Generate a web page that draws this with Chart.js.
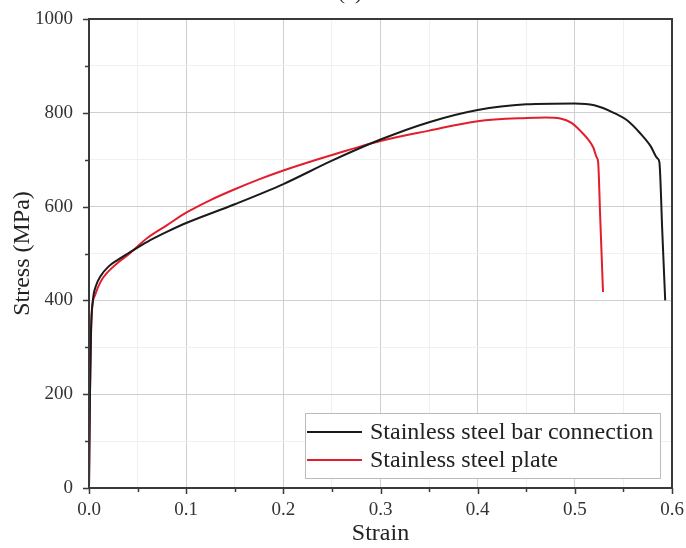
<!DOCTYPE html>
<html>
<head>
<meta charset="utf-8">
<script src="https://cdn.jsdelivr.net/npm/chart.js@4"></script>
<style>
	html, body { margin: 0; padding: 0; background: #fff; }
	#wrap { width: 686px; height: 548px; }
</style>
</head>
<body>
<div id="wrap"><canvas id="stressChart" width="686" height="548"></canvas></div>
<script>
// data
var barLabel = "Stainless steel bar connection";
var barStrain = [0, 0.001, 0.002, 0.004, 0.007, 0.012, 0.02, 0.03, 0.04, 0.06, 0.08, 0.1, 0.15, 0.2, 0.25, 0.3, 0.35, 0.4, 0.45, 0.5, 0.52, 0.54, 0.555, 0.567, 0.578, 0.585, 0.587, 0.59, 0.593];
var barStress = [0, 200, 330, 400, 430, 452, 472, 487, 500, 525, 546, 565, 605, 648, 698, 743, 780, 806, 818, 820, 816, 800, 782, 757, 729, 703, 695, 547, 400];

var plateLabel = "Stainless steel plate";
var plateStrain = [0, 0.001, 0.002, 0.003, 0.006, 0.012, 0.02, 0.03, 0.04, 0.06, 0.08, 0.1, 0.125, 0.15, 0.175, 0.2, 0.25, 0.3, 0.35, 0.4, 0.45, 0.47, 0.485, 0.497, 0.505, 0.513, 0.519, 0.5225, 0.524, 0.526, 0.529];
var plateStress = [0, 200, 320, 380, 410, 440, 462, 481, 497, 533, 560, 587, 614, 637, 658, 677, 710, 740, 762, 782, 789, 790, 788, 778, 763, 745, 726, 705, 695, 584, 418];

var xMin = 0, xMax = 0.6, xStep = 0.05;
var yMin = 0, yMax = 1000, yStep = 100;

var serif = "'Liberation Serif', 'DejaVu Serif', serif";

function pairs(xs, ys) {
	return xs.map(function (x, i) { return { x: x, y: ys[i] }; });
}
function isMajorX(v) { return Math.round(v * 100) % 10 === 0; }
function isMajorY(v) { return Math.round(v) % 200 === 0; }

// frame, outward ticks, legend box and the cut "(a)"
var decor = {
	id: "decor",
	afterDraw: function (chart) {
		var ctx = chart.ctx;
		var a = chart.chartArea;
		var xs = chart.scales.x, ys = chart.scales.y;
		ctx.save();
		ctx.strokeStyle = "#3a3a3a";
		ctx.lineWidth = 2;
		ctx.strokeRect(a.left, a.top, a.right - a.left, a.bottom - a.top);

		ctx.lineWidth = 1.5;
		ctx.beginPath();
		xs.ticks.forEach(function (t) {
			var px = Math.round(xs.getPixelForValue(t.value)) + 0.5;
			var len = isMajorX(t.value) ? 6 : 4;
			ctx.moveTo(px, a.bottom);
			ctx.lineTo(px, a.bottom + len);
		});
		ys.ticks.forEach(function (t) {
			var py = Math.round(ys.getPixelForValue(t.value)) + 0.5;
			var len = isMajorY(t.value) ? 6 : 4;
			ctx.moveTo(a.left, py);
			ctx.lineTo(a.left - len, py);
		});
		ctx.stroke();

		// legend
		var bx = 305, by = 413, bw = 355, bh = 65;
		ctx.fillStyle = "#fff";
		ctx.fillRect(bx, by, bw, bh);
		ctx.strokeStyle = "#bbb";
		ctx.lineWidth = 1;
		ctx.strokeRect(bx + 0.5, by + 0.5, bw, bh);
		ctx.font = "24px " + serif;
		ctx.textBaseline = "middle";
		chart.data.datasets.forEach(function (ds, i) {
			var ly = by + 19 + i * 28;
			ctx.strokeStyle = ds.borderColor;
			ctx.lineWidth = 2;
			ctx.beginPath();
			ctx.moveTo(bx + 2, ly);
			ctx.lineTo(bx + 57, ly);
			ctx.stroke();
			ctx.fillStyle = "#222";
			ctx.fillText(ds.label, bx + 65, ly + 1);
		});

		ctx.fillStyle = "#333";
		ctx.font = "22px " + serif;
		ctx.textAlign = "center";
		ctx.textBaseline = "alphabetic";
		ctx.fillText("(a)", 350, -1);
		ctx.restore();
	}
};

var chart = new Chart(document.getElementById("stressChart"), {
	type: "line",
	data: {
		datasets: [
			{
				label: barLabel,
				data: pairs(barStrain, barStress),
				borderColor: "#1a1a1a",
				borderWidth: 2,
				pointRadius: 0,
				cubicInterpolationMode: "monotone",
				fill: false
			},
			{
				label: plateLabel,
				data: pairs(plateStrain, plateStress),
				borderColor: "#e31e2c",
				borderWidth: 2,
				pointRadius: 0,
				cubicInterpolationMode: "monotone",
				fill: false
			}
		]
	},
	options: {
		responsive: false,
		animation: false,
		layout: { padding: { left: 0, right: 14, top: 19, bottom: 0 } },
		plugins: {
			legend: { display: false },
			tooltip: { enabled: false }
		},
		scales: {
			x: {
				type: "linear",
				min: xMin,
				max: xMax,
				afterFit: function (s) {
					s.height = 60;
					s.paddingLeft = 0;
					s.paddingRight = 0;
				},
				afterBuildTicks: function (s) {
					var t = [];
					for (var i = 0; i <= Math.round((xMax - xMin) / xStep); i++) t.push({ value: xMin + i * xStep });
					s.ticks = t;
				},
				ticks: {
					autoSkip: false,
					maxRotation: 0,
					padding: 11,
					color: "#333",
					font: { family: serif, size: 19 },
					callback: function (v) { return isMajorX(v) ? v.toFixed(1) : ""; }
				},
				grid: {
					drawTicks: false,
					color: function (c) { return isMajorX(c.tick.value) ? "#cfcfcf" : "#f0f0f0"; }
				},
				border: { display: false },
				title: {
					display: true,
					text: "Strain",
					color: "#222",
					font: { family: serif, size: 24 },
					padding: { top: 0, bottom: 0 }
				}
			},
			y: {
				type: "linear",
				min: yMin,
				max: yMax,
				afterFit: function (s) {
					s.width = 89;
					s.paddingTop = 0;
					s.paddingBottom = 0;
				},
				afterBuildTicks: function (s) {
					var t = [];
					for (var v = yMin; v <= yMax; v += yStep) t.push({ value: v });
					s.ticks = t;
				},
				ticks: {
					autoSkip: false,
					padding: 16,
					color: "#333",
					font: { family: serif, size: 19 },
					callback: function (v) { return isMajorY(v) ? String(v) : ""; }
				},
				grid: {
					drawTicks: false,
					color: function (c) { return isMajorY(c.tick.value) ? "#cfcfcf" : "#f0f0f0"; }
				},
				border: { display: false },
				title: {
					display: true,
					text: "Stress (MPa)",
					color: "#222",
					font: { family: serif, size: 24 },
					padding: { top: 8, bottom: 0 }
				}
			}
		}
	},
	plugins: [decor]
});
</script>
</body>
</html>
